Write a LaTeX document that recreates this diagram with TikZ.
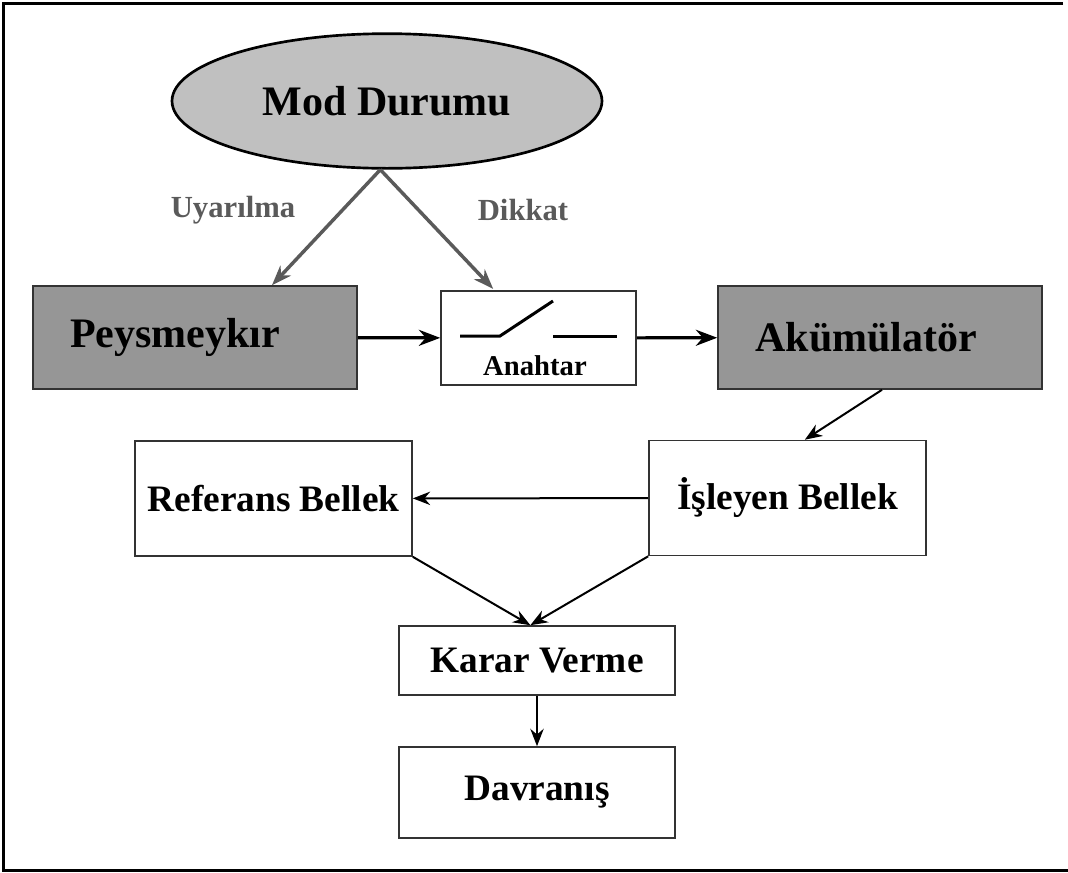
\documentclass[tikz,border=0pt]{standalone}
\usepackage{fontspec}
\setmainfont{Liberation Serif}
\usetikzlibrary{arrows.meta,shapes.geometric}
\definecolor{ovalgray}{RGB}{192,192,192}
\definecolor{boxgray}{RGB}{150,150,150}
\definecolor{linkgray}{RGB}{90,90,90}
\begin{document}
\begin{tikzpicture}
  [x=0.75pt,y=-0.75pt,
   box/.style={draw=black!80,line width=1.2pt,rectangle,inner sep=0pt},
   graybox/.style={box,fill=boxgray,minimum width=243pt,minimum height=77.25pt,
     inner xsep=28pt,text width=187pt,align=left,
     font=\fontsize{31.5}{36}\selectfont\bfseries},
   whitebox/.style={box,fill=white,minimum width=207.75pt,minimum height=86.25pt,
     font=\fontsize{28}{32}\selectfont\bfseries},
   tip/.style={-{Stealth[length=13pt,width=10pt]}},
   gray link/.style={-{Stealth[length=15pt,width=11pt]},draw=linkgray,line width=2.6pt},
   thick link/.style={-{Stealth[length=16pt,width=12pt]},line width=2.4pt},
   thin link/.style={tip,line width=1.5pt}]
  \useasboundingbox (0,0) rectangle (1068,872);
  % frame
  \draw[line width=2.25pt] (1063,3) -- (3,3) -- (3,870) -- (1068,870);

  \node (mod)[ellipse,draw,line width=2pt,fill=ovalgray,minimum width=322.5pt,
    minimum height=101pt,font=\fontsize{31.5}{36}\selectfont\bfseries] at (387,101) {Mod Durumu};
  \node (peys)[graybox] at (195,337.5) {Peysmeykır};
  \node (anahtar)[box,minimum width=146.25pt,minimum height=70.5pt] at (538.5,338) {};
  \node (akum)[graybox] at (880,337.5) {Akümülatör};
  \node (ref)[whitebox] at (273.5,498.5) {Referans Bellek};
  \node (isl)[whitebox] at (787.5,498) {İşleyen Bellek};
  \node (karar)[whitebox,minimum width=207pt,minimum height=51.75pt] at (537,660.5) {Karar Verme};
  \node (davr)[whitebox,minimum width=207pt,minimum height=68.25pt] at (537,792.5) {Davranış};

  % switch inside the box
  \node (anahtarlbl)[font=\fontsize{21.5}{24}\selectfont\bfseries] at (535,366) {Anahtar};
  \draw[line width=2.25pt] (460,336) -- (500,336) -- (553,301);
  \draw[line width=2.25pt] (553,336) -- (617,336);

  \node (uyar)[text=linkgray,font=\fontsize{23}{26}\selectfont\bfseries] at (233,210) {Uyarılma};
  \node (dikkat)[text=linkgray,font=\fontsize{23}{26}\selectfont\bfseries] at (523,210) {Dikkat};

  \draw[gray link] ([xshift=-5pt]mod.south) -- ([xshift=57.75pt]peys.north);
  \draw[gray link] ([xshift=-5pt]mod.south) -- ([xshift=-34pt,yshift=1pt]anahtar.north);

  \foreach \from/\to in {peys/anahtar,anahtar/akum}
    \draw[thick link] (\from) -- (\to);

  \draw[thin link] ([xshift=1.5pt]akum.south) -- ([xshift=13pt]isl.north);
  \draw[thin link] (isl) -- (ref);
  \foreach \from in {ref.south east,isl.south west}
    \draw[thin link] (\from) -- ([xshift=-5pt]karar.north);
  \draw[thin link] (karar) -- (davr);
\end{tikzpicture}
\end{document}
